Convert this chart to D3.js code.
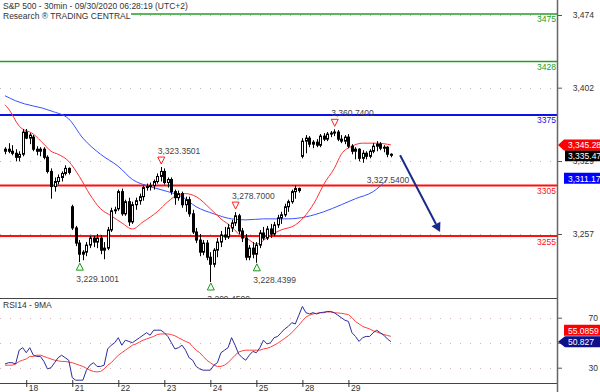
<!DOCTYPE html>
<html><head><meta charset="utf-8">
<script src="https://cdn.jsdelivr.net/npm/d3@7/dist/d3.min.js"></script>
<style>
html,body{margin:0;padding:0;background:#fff;}
svg{display:block;font-family:"Liberation Sans",Arial,sans-serif;}
</style></head><body>
<svg id="c" width="600" height="392"></svg>
<script>
// ---------------- DATA ----------------
const titleLines = ["S&P 500 - 30min - 09/30/2020 06:28:19 (UTC+2)", "Research \u00AE TRADING CENTRAL"];
const rsiTitle = "RSI14 - 9MA";
const dayLabels = ["18","21","22","23","24","25","28","29"];
const dayStartIndex = [6,19,32,45,58,71,84,97];
const priceTicks = [3474, 3402, 3329.3, 3257];
const rsiTicks = [70, 50, 30];
const rsiTickLabels = ["70", "", "30"];
// [open, high, low, close]
const candles = [
 [3339,3343,3336,3341],[3341,3347,3337,3339],[3339,3345,3335,3337],[3337,3341,3329,3333],[3333,3339,3329,3336],[3336,3361,3334,3358],
 [3358,3361,3351,3352],[3352,3357,3346,3355],[3353,3355,3339,3341],[3341,3344,3335,3339],[3339,3343,3334,3341],[3341,3343,3331,3333],
 [3333,3335,3317,3319],[3319,3322,3292,3304],[3304,3313,3299,3309],[3309,3316,3306,3313],[3313,3319,3309,3317],[3317,3325,3315,3322],[3322,3323,3316,3318],
 [3284,3286,3261,3263],[3263,3265,3245,3248],[3248,3251,3229.1,3237],[3237,3241,3231,3239],[3239,3249,3235,3246],[3246,3255,3243,3253],
 [3253,3255,3244,3249],[3249,3257,3243,3253],[3253,3256,3237,3241],[3241,3249,3232,3243],[3243,3264,3241,3261],[3261,3283,3259,3280],[3280,3284,3277,3281],
 [3282,3301,3280,3299],[3299,3302,3275,3277],[3277,3291,3275,3289],[3289,3293,3265,3269],[3269,3289,3267,3286],[3286,3293,3281,3290],
 [3290,3297,3286,3294],[3294,3305,3290,3303],[3303,3307,3300,3304],[3304,3308,3300,3305],[3305,3311,3301,3309],[3309,3317,3307,3314],[3314,3323.35,3309,3319],
 [3319,3322,3306,3308],[3308,3313,3303,3311],[3311,3313,3296,3299],[3299,3301,3286,3293],[3293,3300,3290,3297],[3297,3299,3283,3286],
 [3286,3294,3279,3291],[3291,3294,3274,3277],[3277,3281,3257,3259],[3259,3263,3248,3251],[3251,3257,3235,3239],[3239,3251,3236,3248],[3248,3251,3231,3234],
 [3234,3239,3209.45,3227],[3227,3243,3224,3241],[3241,3253,3234,3249],[3249,3260,3244,3256],[3256,3264,3251,3254],[3254,3267,3252,3263],
 [3263,3271,3259,3268],[3268,3278.7,3265,3275],[3275,3277,3257,3260],[3260,3263,3249,3253],[3253,3257,3231,3234],[3234,3246,3231,3243],[3243,3249,3233,3237],
 [3237,3249,3228.44,3246],[3246,3261,3243,3258],[3258,3264,3251,3253],[3253,3265,3251,3262],[3262,3267,3253,3257],[3257,3269,3255,3266],
 [3266,3276,3263,3273],[3273,3279,3267,3276],[3276,3287,3274,3284],[3284,3291,3279,3289],[3289,3301,3287,3299],[3299,3305,3292,3302],[3302,3303,3298,3300],
 [3334,3352,3332,3349],[3349,3355,3337,3352],[3352,3354,3343,3346],[3346,3350,3342,3348],[3348,3351,3343,3345],[3345,3356,3343,3354],
 [3354,3357,3349,3351],[3351,3358,3349,3356],[3356,3359,3353,3357],[3357,3360.74,3354,3358],[3358,3360,3349,3351],[3351,3355,3347,3349],[3349,3355,3346,3353],
 [3353,3356,3342,3344],[3344,3346,3336,3339],[3339,3343,3331,3341],[3341,3342,3329,3332],[3332,3340,3327.54,3337],[3337,3339,3331,3334],
 [3334,3341,3332,3339],[3339,3347,3337,3344],[3344,3349,3339,3346],[3346,3348,3340,3342],[3342,3345,3338,3343],[3343,3344,3333,3336],[3336,3337,3333,3335.47]
];
// moving averages: [bar index, price]
const maFast = [[0,3385],[1,3381],[4,3364],[8,3356],[11,3346],[13,3339],[15,3336],[18,3329],[21,3314],[24,3296],[27,3282],[30,3275],[33,3268],[36,3262],[39,3269],[43,3279],[46,3289],[49,3296],[51,3297],[54,3294],[58,3282],[61,3272],[64,3264],[66,3257],[69,3251],[71,3247],[75,3256],[78,3261],[82,3266],[85,3276],[88,3292],[90,3306],[93,3322],[95,3336],[98,3344],[101,3347],[105,3347],[109,3345.28]];
const maSlow = [[0,3394],[3,3389],[13,3379],[18,3371],[22,3352],[27,3336],[32,3324],[36,3311],[41,3304],[46,3299],[50,3294],[54,3284],[59,3277],[64,3272],[68,3271],[73,3272],[80,3272],[85,3274],[90,3279],[95,3286],[99,3292],[104,3299],[108,3311.17]];
const rsi14 = [33,34,34,33,44,46,42,46,40,39,39,35,29,30,34,38,40,38,36,22,20,20,20,28,32,34,31,31,32,45,48,50,54,48,52,51,50,52,54,56,58,56,60,60,60,58,55,50,45,46,48,44,38,36,31,29,28,28,28,32,34,42,44,46,54,48,41,38,36,40,43,42,46,52,49,50,54,55,58,61,63,66,65,72,79,74,73,74,73,74,74,75,75,74,72,70,68,67,58,55,51,54,55,55,58,60,58,56,53,50.827];
const rsiMA9 = [32,32,32,33,35,36,37,39,39,40,40,39,38,37,36,35.5,35,35,34.5,34,33,32,31,29.5,28,27,26.6,27,29,32,34,37,40,42,44,46,48,49,50.6,52,53,54,55,56.5,57,57,57,56.5,55.5,54,52.5,51,50,47,44,42,39,36,34,32,31,31,32,34,37,40,42.5,43.5,44,44,44,44,44,45,45.5,46.5,48,49.5,51.5,53.5,55.5,58,61,64,67.5,70.5,72,73,73.5,74,74.5,74.6,74.5,74,73.8,73.5,73,72.5,70,67,65,63,62,61,59.5,58.6,57.5,56.5,55.8,55.0859];
const levels = [3475, 3428, 3375, 3305, 3255];
const levelKind = ["target","target","resistance","pivot","support"];
// pivots: [bar index, price, type]
const pivots = [[44,3323.3501,"high"],[65,3278.7,"high"],[93,3360.74,"high"],[21,3229.1001,"low"],[58,3209.45,"low"],[71,3228.4399,"low"]];
const pendingLabel = [103, 3327.54];
const forecastArrow = [[111.6,3335],[122.9,3259]];
const lastValues = {maFast:3345.28, close:3335.47, maSlow:3311.17, rsiMA:55.0859, rsi:50.827};

// ---------------- DRAW ----------------
const svg = d3.select("#c");
const plotR = 557;
const x = d3.scaleLinear().domain([0,109]).range([5,390.9]);
const y = d3.scaleLinear().domain([3257,3474]).range([234,15]);
const yr = d3.scaleLinear().domain([30,70]).range([367.7,317.7]);
const FS = 8.5;

const defs = svg.append("defs");
defs.append("clipPath").attr("id","cm").append("rect").attr("x",0).attr("y",0).attr("width",plotR).attr("height",298);
defs.append("clipPath").attr("id","cr").append("rect").attr("x",0).attr("y",299).attr("width",plotR).attr("height",84);

const main = svg.append("g").attr("clip-path","url(#cm)");
// grid
main.append("g").selectAll("line").data(priceTicks).join("line")
  .attr("x1",0).attr("x2",plotR).attr("y1",d=>Math.round(y(d))+0.5).attr("y2",d=>Math.round(y(d))+0.5)
  .attr("stroke","#b8b8b8").attr("stroke-dasharray","1,9");

// levels
const lvlColor = k => k==="target" ? "#22a022" : (k==="resistance" ? "#1010e8" : "#ff1010");
const lvlW = k => k==="target" ? 1.5 : 2;
main.append("g").selectAll("line").data(levels).join("line")
  .attr("x1",0).attr("x2",plotR).attr("y1",d=>y(d)).attr("y2",d=>y(d))
  .attr("stroke",(d,i)=>lvlColor(levelKind[i])).attr("stroke-width",(d,i)=>lvlW(levelKind[i]));
main.append("g").selectAll("text").data(levels).join("text")
  .attr("x",plotR-1).attr("y",d=>y(d)+8.5).attr("text-anchor","end")
  .attr("font-size",8.5).attr("fill",(d,i)=>lvlColor(levelKind[i])).text(d=>d);

// moving averages
const maLine = d3.line().x(d=>x(d[0])).y(d=>y(d[1])).curve(d3.curveMonotoneX);
main.append("path").attr("d",maLine(maSlow)).attr("fill","none").attr("stroke","#3a50ff").attr("stroke-width",1);
main.append("path").attr("d",maLine(maFast)).attr("fill","none").attr("stroke","#ff3030").attr("stroke-width",1);

// candles
const cg = main.append("g");
candles.forEach((c,i)=>{
  const cx = Math.round(x(i));
  cg.append("line").attr("x1",cx+0.5).attr("x2",cx+0.5).attr("y1",y(c[1])).attr("y2",y(c[2])).attr("stroke","#000").attr("stroke-width",1);
  const top = y(Math.max(c[0],c[3])), bot = y(Math.min(c[0],c[3]));
  cg.append("rect").attr("x",cx-0.5).attr("y",top).attr("width",2).attr("height",Math.max(1,bot-top))
    .attr("fill", c[3]>=c[0] ? "#fff" : "#000").attr("stroke","#000").attr("stroke-width",1);
});

// pivots
const fmt4 = d3.format(",.4f");
pivots.forEach(p=>{
  const cx = x(p[0])+0.5, py = y(p[1]);
  if(p[2]==="high"){
    main.append("path").attr("d",`M${cx-3.5},${py-10}L${cx+3.5},${py-10}L${cx},${py-3}Z`).attr("fill","#fff").attr("stroke","#ff2020").attr("stroke-width",1);
    main.append("text").attr("x",x(p[0])-3).attr("y",py-13).attr("font-size",FS).attr("fill","#444").text(fmt4(p[1]));
  } else {
    main.append("path").attr("d",`M${cx},${py+1}L${cx-3.5},${py+8}L${cx+3.5},${py+8}Z`).attr("fill","#fff").attr("stroke","#1a9a1a").attr("stroke-width",1);
    main.append("text").attr("x",x(p[0])-3).attr("y",py+20).attr("font-size",FS).attr("fill","#444").text(fmt4(p[1]));
  }
});
main.append("text").attr("x",x(pendingLabel[0])-3).attr("y",y(pendingLabel[1])+20).attr("font-size",FS).attr("fill","#444").text(fmt4(pendingLabel[1]));

// forecast arrow
const a0=[x(forecastArrow[0][0]),y(forecastArrow[0][1])], a1=[x(forecastArrow[1][0]),y(forecastArrow[1][1])];
const ang=Math.atan2(a1[1]-a0[1],a1[0]-a0[0]);
const back=[a1[0]-9*Math.cos(ang),a1[1]-9*Math.sin(ang)];
main.append("line").attr("x1",a0[0]).attr("y1",a0[1]).attr("x2",back[0]).attr("y2",back[1]).attr("stroke","#1a2a8a").attr("stroke-width",2);
const px=-Math.sin(ang), py2=Math.cos(ang);
main.append("path").attr("d",`M${a1[0]},${a1[1]}L${back[0]+5*px},${back[1]+5*py2}L${back[0]-5*px},${back[1]-5*py2}Z`).attr("fill","#1a2a8a");

// title
const tg = svg.append("g");
tg.append("rect").attr("x",0).attr("y",0).attr("width",192).attr("height",10.5).attr("fill","#fff");
tg.append("rect").attr("x",0).attr("y",10.5).attr("width",131).attr("height",10).attr("fill","#fff");
tg.selectAll("text").data(titleLines).join("text").attr("x",3).attr("y",(d,i)=>9+i*10).attr("font-size",FS).attr("fill","#333").text(d=>d);

// panel lines
svg.append("line").attr("x1",0).attr("x2",plotR).attr("y1",298.5).attr("y2",298.5).attr("stroke","#444");
svg.append("line").attr("x1",0).attr("x2",plotR).attr("y1",383.5).attr("y2",383.5).attr("stroke","#444");

// RSI panel
const rp = svg.append("g").attr("clip-path","url(#cr)");
rp.append("g").selectAll("line").data(rsiTicks).join("line")
  .attr("x1",0).attr("x2",plotR).attr("y1",d=>Math.round(yr(d))+0.5).attr("y2",d=>Math.round(yr(d))+0.5)
  .attr("stroke","#d4b8b8").attr("stroke-dasharray","1,9");
const rl = d3.line().x((d,i)=>x(i)).y(d=>yr(d));
rp.append("path").attr("d",rl(rsiMA9)).attr("fill","none").attr("stroke","#ff4040").attr("stroke-width",1);
rp.append("path").attr("d",rl(rsi14)).attr("fill","none").attr("stroke","#2c2ca0").attr("stroke-width",1);
svg.append("text").attr("x",3).attr("y",308).attr("font-size",FS).attr("fill","#333").text(rsiTitle);

// right axis
svg.append("line").attr("x1",plotR+0.5).attr("x2",plotR+0.5).attr("y1",0).attr("y2",392).attr("stroke","#666").attr("stroke-width",1.5);
const pa = svg.append("g").attr("transform",`translate(${plotR+1},0)`)
  .call(d3.axisRight(y).tickValues(priceTicks).tickSize(4).tickFormat(d3.format(",.0f")));
pa.select(".domain").remove();
pa.selectAll("line").attr("stroke","#555");
pa.selectAll("text").attr("x",36).attr("text-anchor","end").attr("font-size",FS).attr("font-family","Liberation Sans, Arial").attr("fill","#333");
const ra = svg.append("g").attr("transform",`translate(${plotR+1},0)`)
  .call(d3.axisRight(yr).tickValues(rsiTicks).tickSize(4).tickFormat((d,i)=>rsiTickLabels[i]));
ra.select(".domain").remove();
ra.selectAll("line").attr("stroke","#555");
ra.selectAll("text").attr("x",40).attr("text-anchor","end").attr("font-size",FS).attr("font-family","Liberation Sans, Arial").attr("fill","#333");

// bottom axis
const xa = svg.append("g").attr("transform","translate(0,383)")
  .call(d3.axisBottom(x).tickValues(dayStartIndex).tickSize(4).tickFormat((d,i)=>dayLabels[i]));
xa.select(".domain").remove();
xa.selectAll("line").attr("y1",-3).attr("y2",4).attr("stroke","#333");
xa.selectAll("text").attr("x",2).attr("y",8).attr("dy",0).attr("text-anchor","start").attr("font-size",FS).attr("font-family","Liberation Sans, Arial").attr("fill","#333");

// value boxes
function box(yc, x0, color, label, arrow){
  const h=5.5;
  const d = arrow ? `M${plotR+1},${yc}L${x0},${yc-h}L600,${yc-h}L600,${yc+h}L${x0},${yc+h}Z`
                  : `M${x0},${yc-h}L600,${yc-h}L600,${yc+h}L${x0},${yc+h}Z`;
  svg.append("path").attr("d",d).attr("fill",color);
  svg.append("text").attr("x",568).attr("y",yc+3.2).attr("font-size",FS).attr("fill","#fff").text(label);
}
const f2 = d3.format(",.2f");
box(y(lastValues.close)+1, 565, "#000", f2(lastValues.close), false);
box(y(lastValues.maFast), 564, "#ff0000", f2(lastValues.maFast), true);
box(y(lastValues.maSlow)-1, 564, "#0000ff", f2(lastValues.maSlow), false);
box(yr(lastValues.rsiMA)-6, 564, "#ff0000", String(lastValues.rsiMA), false);
box(yr(lastValues.rsi), 565, "#10108a", String(lastValues.rsi), true);
</script>
</body></html>
